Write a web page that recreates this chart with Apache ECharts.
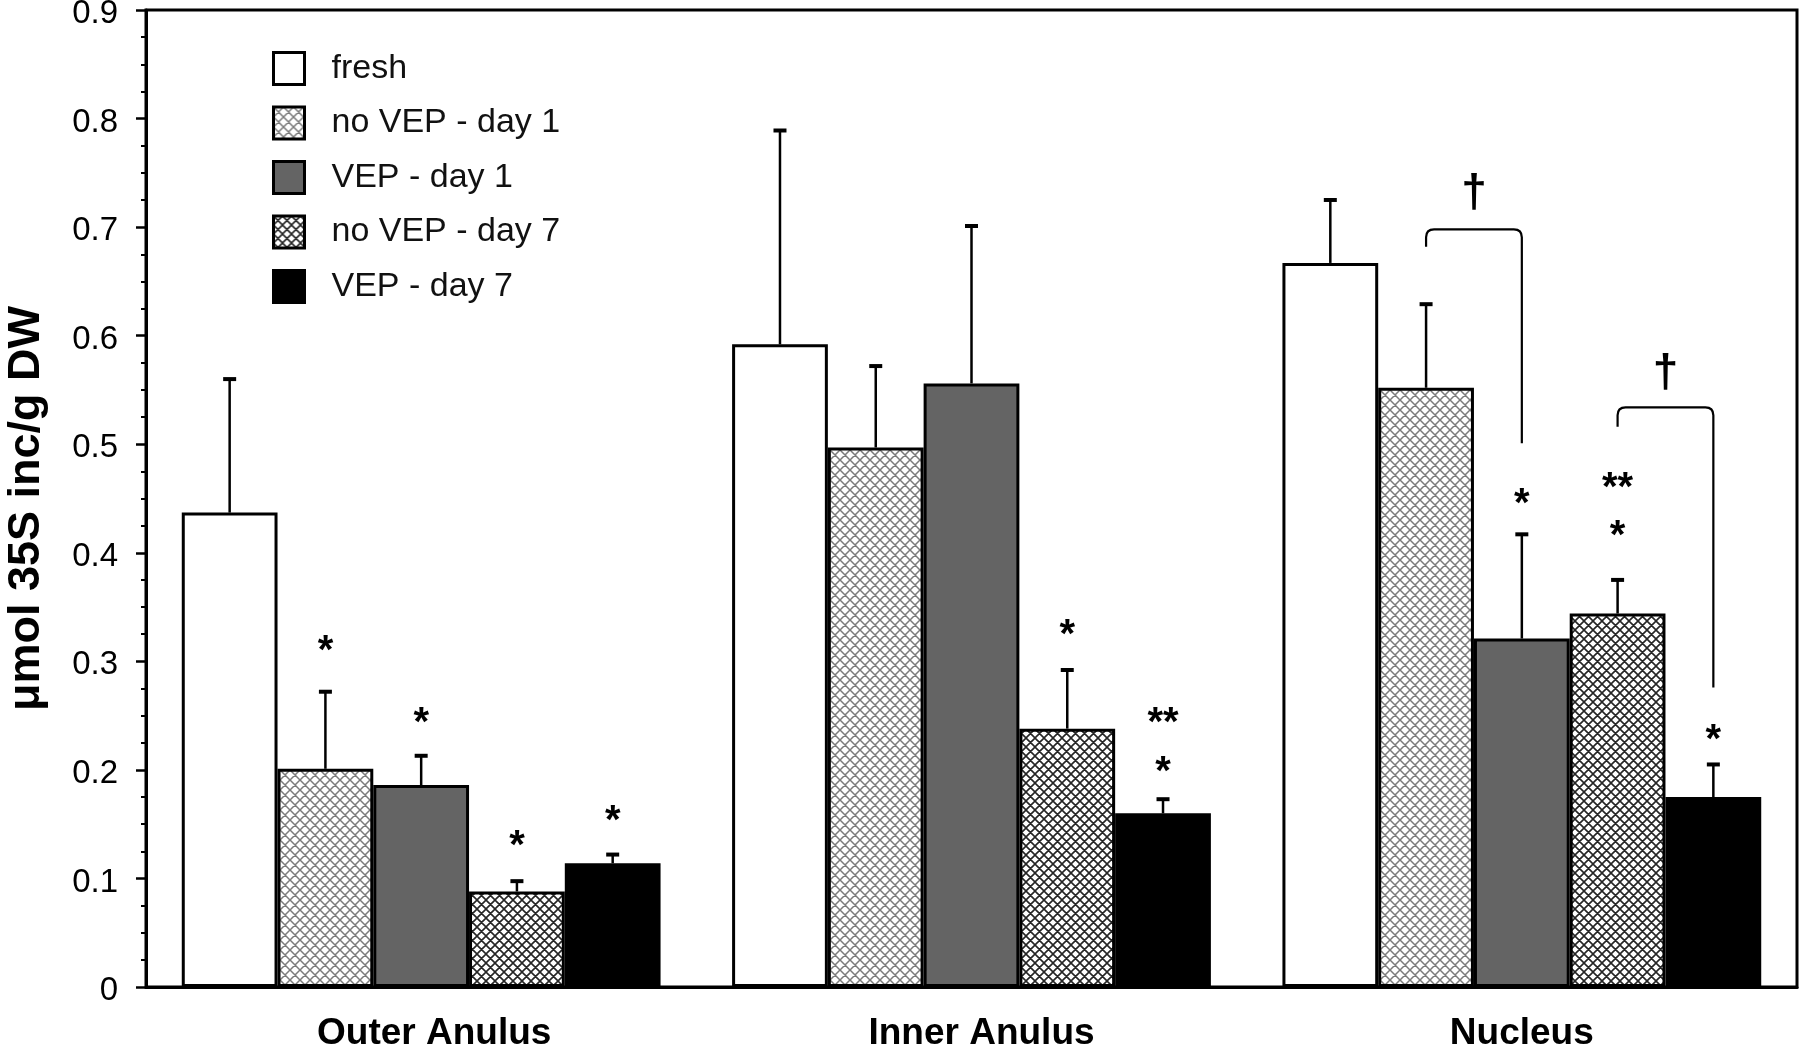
<!DOCTYPE html>
<html>
<head>
<meta charset="UTF-8">
<title>35S incorporation</title>
<script src="https://cdn.jsdelivr.net/npm/echarts@6/dist/echarts.min.js"></script>
<style>
  html, body { margin: 0; padding: 0; background: #fff; }
  #main { width: 1800px; height: 1046px; }
</style>
</head>
<body>
<div id="main"></div>
<script>
// regions on the x axis, groups = legend entries
var regions = ['Outer Anulus', 'Inner Anulus', 'Nucleus'];
var groups = ['fresh', 'no VEP - day 1', 'VEP - day 1', 'no VEP - day 7', 'VEP - day 7'];

// means
var fresh   = [0.437, 0.592, 0.667];
var noVep1  = [0.201, 0.497, 0.552];
var vep1    = [0.186, 0.556, 0.321];
var noVep7  = [0.088, 0.238, 0.344];
var vep7    = [0.114, 0.160, 0.175];

// upper error (sd)
var freshSd  = [0.123, 0.197, 0.058];
var noVep1Sd = [0.071, 0.075, 0.077];
var vep1Sd   = [0.027, 0.145, 0.096];
var noVep7Sd = [0.0095, 0.054, 0.031];
var vep7Sd   = [0.008, 0.013, 0.030];

// significance marks: [region, group, value, text]
var stars = [
  [0, 1, 0.317, '*'], [0, 2, 0.251, '*'], [0, 3, 0.137, '*'], [0, 4, 0.160, '*'],
  [1, 3, 0.332, '*'], [1, 4, 0.251, '**'], [1, 4, 0.205, '*'],
  [2, 2, 0.452, '*'], [2, 3, 0.467, '**'], [2, 3, 0.423, '*'], [2, 4, 0.235, '*']
];
// brackets: [region, left group, right group, left end, top, right end]
var brackets = [
  [2, 1, 2, 0.682, 0.698, 0.501],
  [2, 3, 4, 0.516, 0.534, 0.276]
];
// daggers: [region, group position, value]
var daggers = [
  [2, 1.5, 0.735],
  [2, 3.5, 0.569]
];

var means = [fresh, noVep1, vep1, noVep7, vep7];
var sds = [freshSd, noVep1Sd, vep1Sd, noVep7Sd, vep7Sd];
var BAR = 0.174;
var FONT = 'Liberation Sans, Arial, sans-serif';

function hatch(size, col, lw) {
  var c = document.createElement('canvas');
  c.width = c.height = size;
  var g = c.getContext('2d');
  g.fillStyle = '#fff';
  g.fillRect(0, 0, size, size);
  g.strokeStyle = col;
  g.lineWidth = lw;
  g.beginPath();
  for (var k = -1; k <= 1; k++) {
    g.moveTo(k * size, 0); g.lineTo(k * size + size, size);
    g.moveTo(k * size + size, 0); g.lineTo(k * size, size);
  }
  g.stroke();
  return c;
}

var fills = [
  '#ffffff',
  { image: hatch(10, '#7c7c7c', 1.5), repeat: 'repeat' },
  '#646464',
  { image: hatch(9, '#262626', 1.6), repeat: 'repeat' },
  '#000000'
];

function xOf(api, ci, pos) {
  var band = api.size([1, 0])[0];
  return api.coord([ci, 0])[0] + (pos - 2) * band * BAR;
}

var errData = [];
for (var s = 0; s < 5; s++) {
  for (var c = 0; c < 3; c++) {
    errData.push([c, s, means[s][c], means[s][c] + sds[s][c]]);
  }
}

var series = groups.map(function (name, i) {
  return {
    name: name,
    type: 'bar',
    data: means[i],
    barWidth: (BAR * 100) + '%',
    barGap: '0%',
    itemStyle: { color: fills[i], borderColor: '#000', borderWidth: 3 },
    emphasis: { disabled: true },
    z: 2
  };
});

series.push({
  type: 'custom',
  silent: true,
  z: 3,
  encode: { x: 0, y: 3 },
  data: errData,
  renderItem: function (params, api) {
    var x = xOf(api, api.value(0), api.value(1));
    var y0 = api.coord([api.value(0), api.value(2)])[1];
    var y1 = api.coord([api.value(0), api.value(3)])[1];
    return {
      type: 'group',
      children: [
        { type: 'line', shape: { x1: x, y1: y0, x2: x, y2: y1 }, style: { stroke: '#000', lineWidth: 2.5 } },
        { type: 'line', shape: { x1: x - 6.5, y1: y1, x2: x + 6.5, y2: y1 }, style: { stroke: '#000', lineWidth: 4 } }
      ]
    };
  }
});

series.push({
  type: 'custom',
  silent: true,
  z: 4,
  encode: { x: 0, y: 2 },
  data: stars,
  renderItem: function (params, api) {
    var d = stars[params.dataIndex];
    var x = xOf(api, d[0], d[1]);
    var y = api.coord([d[0], d[2]])[1];
    return {
      type: 'text',
      x: x,
      y: y + 9,
      style: { text: d[3], font: 'bold 40px ' + FONT, fill: '#000', align: 'center', verticalAlign: 'middle' }
    };
  }
});

series.push({
  type: 'custom',
  silent: true,
  z: 4,
  encode: { x: 0, y: 4 },
  data: brackets,
  renderItem: function (params, api) {
    var d = brackets[params.dataIndex];
    var x1 = xOf(api, d[0], d[1]), x2 = xOf(api, d[0], d[2]);
    var yl = api.coord([d[0], d[3]])[1];
    var yt = api.coord([d[0], d[4]])[1];
    var yr = api.coord([d[0], d[5]])[1];
    var r = 8;
    var p = 'M' + x1 + ' ' + yl + ' L' + x1 + ' ' + (yt + r) +
      ' Q' + x1 + ' ' + yt + ' ' + (x1 + r) + ' ' + yt +
      ' L' + (x2 - r) + ' ' + yt +
      ' Q' + x2 + ' ' + yt + ' ' + x2 + ' ' + (yt + r) +
      ' L' + x2 + ' ' + yr;
    return { type: 'path', shape: { pathData: p }, style: { stroke: '#000', lineWidth: 2.2, fill: 'none' } };
  }
});

series.push({
  type: 'custom',
  silent: true,
  z: 4,
  encode: { x: 0, y: 2 },
  data: daggers,
  renderItem: function (params, api) {
    var d = daggers[params.dataIndex];
    return {
      type: 'text',
      x: xOf(api, d[0], d[1]),
      y: api.coord([d[0], d[2]])[1] + 5,
      style: { text: '\u2020', font: 'bold 46px ' + FONT, fill: '#000', align: 'center', verticalAlign: 'middle' }
    };
  }
});

// the printed category names sit a little right of their ticks
var xLabelStyle = { fontSize: 37, fontWeight: 'bold', color: '#000', fontFamily: FONT };
var xRich = {
  p0: Object.assign({ padding: [0, 0, 0, 26] }, xLabelStyle),
  p1: Object.assign({ padding: [0, 0, 0, 20] }, xLabelStyle),
  p2: Object.assign({ padding: [0, 0, 0, 0] }, xLabelStyle)
};

var chart = echarts.init(document.getElementById('main'));
chart.setOption({
  animation: false,
  backgroundColor: '#fff',
  textStyle: { fontFamily: FONT },
  grid: {
    left: 146, right: 3, top: 10, bottom: 59,
    outerBoundsMode: 'none',
    containLabel: false,
    show: true, borderColor: '#000', borderWidth: 3
  },
  legend: {
    data: groups,
    orient: 'vertical',
    left: 272,
    top: 51,
    padding: 0,
    icon: 'rect',
    itemWidth: 31,
    itemHeight: 32,
    itemGap: 19.5,
    selectedMode: false,
    itemStyle: { borderColor: '#000', borderWidth: 3 },
    textStyle: { fontSize: 34, lineHeight: 32, color: '#111', fontFamily: FONT, padding: [0, 0, 0, 22] }
  },
  xAxis: {
    type: 'category',
    data: regions,
    axisLine: { lineStyle: { color: '#000', width: 3 } },
    axisTick: { alignWithLabel: true, length: 6, lineStyle: { color: '#000', width: 2 } },
    axisLabel: {
      margin: 28,
      formatter: function (v, i) { return '{p' + i + '|' + v + '}'; },
      rich: xRich
    },
    splitLine: { show: false }
  },
  yAxis: {
    type: 'value',
    min: 0,
    max: 0.9,
    interval: 0.1,
    name: '\u03bcmol 35S inc/g DW',
    nameLocation: 'middle',
    nameGap: 97,
    nameTextStyle: { fontSize: 45, fontWeight: 'bold', color: '#000', fontFamily: FONT, padding: [0, 20, 0, 0] },
    axisLine: { show: true, lineStyle: { color: '#000', width: 3 } },
    axisTick: { show: true, length: 10, lineStyle: { color: '#000', width: 2.5 } },
    minorTick: { show: true, splitNumber: 4, length: 5, lineStyle: { color: '#000', width: 2 } },
    axisLabel: { fontSize: 33, color: '#000', margin: 28, fontFamily: FONT, verticalAlign: 'top', lineHeight: 8 },
    splitLine: { show: false }
  },
  series: series
});
</script>
</body>
</html>
